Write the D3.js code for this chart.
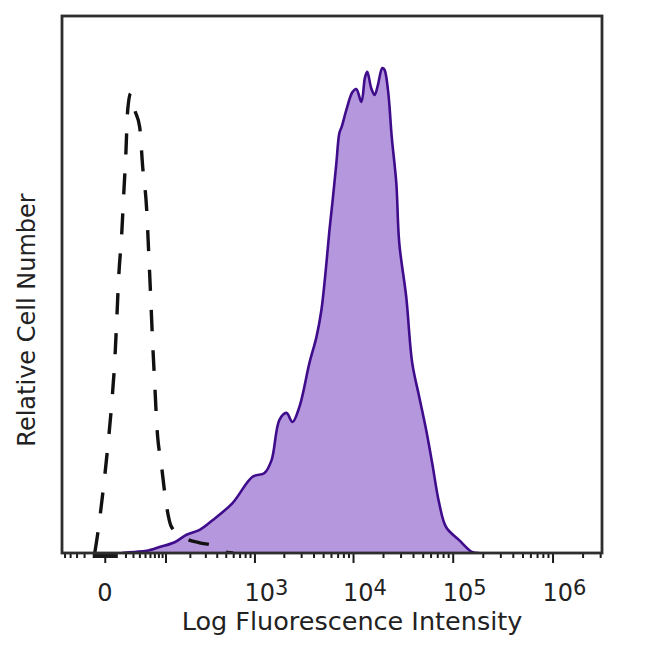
<!DOCTYPE html>
<html>
<head>
<meta charset="utf-8">
<script src="https://cdn.jsdelivr.net/npm/d3@7/dist/d3.min.js"></script>
<style>
  html, body { margin: 0; padding: 0; background: #fff; }
  text { font-family: "DejaVu Sans", Verdana, sans-serif; fill: #222; }
</style>
</head>
<body>
<svg id="chart" width="650" height="650"></svg>
<script>
// ---- data (fluorescence intensity, relative count) ----
const isotypeX = [-8.5, -5.7, -1.5, 2.3, 5.7, 8.5, 10.4, 12.4, 15.7, 18, 20.3, 22.8, 26.8, 32.5, 40.5, 45.7, 53.3, 57.4, 61.6, 66, 70.7, 75.6, 88.8, 103.6, 120, 174, 259, 379, 486, 600];
const isotypeY = [0, 3.7, 11.2, 19.7, 27.9, 35.9, 43.4, 51.4, 59.6, 67, 73.7, 82.5, 85.6, 82.5, 79.3, 71.9, 63.9, 55.9, 47.7, 39.1, 31.7, 24.2, 16, 8.6, 4.8, 2.8, 1.9, 1.3, 0.2, 0];

const stainedX = [15.7, 32.5, 53.3, 83, 131, 183, 259, 360, 590, 955, 1270, 1500, 1805, 2130, 2450, 2880, 3640, 4280, 4810, 5400, 5790, 6200, 6800, 7290, 7700, 8570, 9840, 10790, 12120, 13200, 13900, 15270, 16500, 17700, 19680, 20700, 22500, 24500, 27190, 29120, 34200, 39270, 46140, 54200, 62200, 73100, 86000, 116000, 156000, 184000];
const stainedY = [0, 0.2, 0.4, 1.1, 2.0, 3.4, 4.3, 6.1, 9.3, 14.2, 14.9, 17.3, 24.8, 26.1, 24.4, 27.2, 35.4, 40.2, 45.3, 54.0, 60.1, 65.2, 72.6, 78.2, 79.4, 82.5, 85.8, 86.4, 84.0, 88.6, 89.6, 86.5, 85.3, 87.0, 90.3, 90.0, 86.0, 77.4, 68.9, 57.7, 47.7, 35.4, 29.1, 22.9, 16.8, 9.3, 4.8, 2.4, 0.2, 0];

const tickLabels = [
  { value: 0, base: "0", exp: "" },
  { value: 1e3, base: "10", exp: "3" },
  { value: 1e4, base: "10", exp: "4" },
  { value: 1e5, base: "10", exp: "5" },
  { value: 1e6, base: "10", exp: "6" }
];
const majorTicks = [0, 1e2, 1e3, 1e4, 1e5, 1e6];
const minorMultipliers = [1, 2, 3, 4, 5, 6, 7, 8, 9];
const minorDecades = [1, 10, 100, 1000, 10000, 100000, 1000000];

const xTitle = "Log Fluorescence Intensity";
const yTitle = "Relative Cell Number";

// ---- layout ----
const svg = d3.select("#chart");
const L = 62, R = 602, T = 16, B = 553;

const x = d3.scaleSymlog().constant(32.7).domain([-55, 3.13e6]).range([L, R]);
const y = d3.scaleLinear().domain([0, 100]).range([B, T]);

const stained = stainedX.map((v, i) => [v, stainedY[i]]);
const isotype = isotypeX.map((v, i) => [v, isotypeY[i]]);

svg.append("clipPath").attr("id", "plotclip")
  .append("rect").attr("x", L).attr("y", T).attr("width", R - L).attr("height", B - T);

const g = svg.append("g").attr("clip-path", "url(#plotclip)");

const curve = d3.curveCatmullRom.alpha(0.5);

g.append("path")
  .datum(stained)
  .attr("d", d3.area().x(d => x(d[0])).y0(y(0)).y1(d => y(d[1])).curve(curve))
  .attr("fill", "#b497dc");

g.append("path")
  .datum(stained)
  .attr("d", d3.line().x(d => x(d[0])).y(d => y(d[1])).curve(curve))
  .attr("fill", "none")
  .attr("stroke", "#3f0c8c")
  .attr("stroke-width", 2.6)
  .attr("stroke-linejoin", "round");

g.append("path")
  .datum(isotype)
  .attr("d", d3.line().x(d => x(d[0])).y(d => y(d[1])).curve(d3.curveMonotoneX))
  .attr("fill", "none")
  .attr("stroke", "#111")
  .attr("stroke-width", 3.4)
  .attr("stroke-dasharray", "21,19");

// ---- ticks ----
let minor = [];
minorDecades.forEach(d => minorMultipliers.forEach(m => {
  const v = d * m;
  if (v <= 3e6) minor.push(v);
}));
const negMinor = [-1, -2, -3, -4, -5, -6, -7, -8, -9, -10, -20, -30, -40, -50];
minor = minor.concat(negMinor).filter(v => majorTicks.indexOf(v) < 0);

const minorAxis = d3.axisBottom(x).tickValues(minor).tickSize(5).tickFormat("");
const majorAxis = d3.axisBottom(x).tickValues(majorTicks).tickSize(10).tickFormat("");

[minorAxis, majorAxis].forEach(ax => {
  const a = svg.append("g").attr("transform", `translate(0,${B})`).call(ax);
  a.select(".domain").remove();
  a.selectAll(".tick line").attr("stroke", "#1a1a1a").attr("stroke-width", 2);
});

// ---- frame ----
svg.append("rect")
  .attr("x", L).attr("y", T).attr("width", R - L).attr("height", B - T)
  .attr("fill", "none").attr("stroke", "#2e2e2e").attr("stroke-width", 2.8);

// ---- tick labels ----
tickLabels.forEach(t => {
  const tx = x(t.value);
  if (t.exp === "") {
    svg.append("text").attr("x", tx).attr("y", 601)
      .attr("text-anchor", "middle").attr("font-size", 24).text(t.base);
  } else {
    const txt = svg.append("text").attr("x", tx - 10).attr("y", 601)
      .attr("text-anchor", "start").attr("font-size", 24);
    txt.append("tspan").text(t.base);
    txt.append("tspan").attr("dy", -6).attr("font-size", 21).text(t.exp);
  }
});

// ---- titles ----
svg.append("text").attr("x", 352).attr("y", 630)
  .attr("text-anchor", "middle").attr("font-size", 25.5).text(xTitle);

svg.append("text")
  .attr("transform", "translate(35,320) rotate(-90)")
  .attr("text-anchor", "middle").attr("font-size", 24).text(yTitle);
</script>
</body>
</html>
